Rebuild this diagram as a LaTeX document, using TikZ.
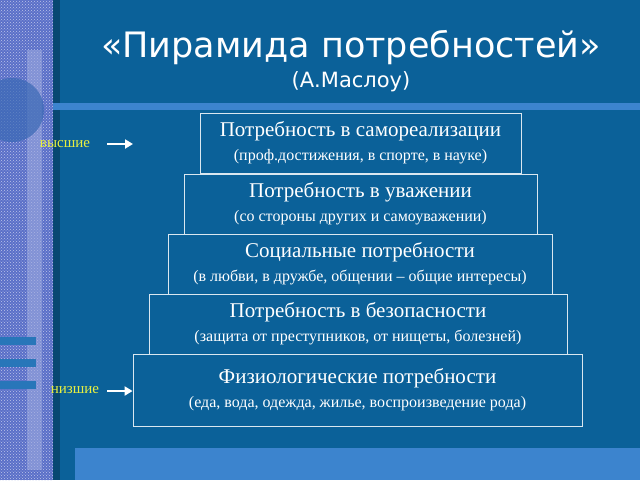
\documentclass[tikz,border=0pt]{standalone}
\usepackage{fontspec}
\setmainfont{Liberation Serif}
\newfontfamily\titlefont{DejaVu Sans}
\usetikzlibrary{positioning,arrows.meta,patterns}
\definecolor{slideblue}{HTML}{0B6199}
\definecolor{bandblue}{HTML}{3C84CE}
\definecolor{stripblue}{HTML}{5A6FC8}
\definecolor{lowyellow}{HTML}{E8F040}
\tikzset{
  level/.style={draw=white!85!slideblue, line width=0.8pt, fill=slideblue, text=white,
    align=center, inner sep=2pt, font=\fontsize{21}{24}\selectfont},
  note/.style={text=lowyellow, font=\fontsize{15}{17}\selectfont},
  pointer/.style={white, line width=2.5pt, -{Triangle[length=8pt,width=9pt]}},
  heading/.style={font=\titlefont\fontsize{35}{40}\selectfont}
}
\newcommand{\sub}[1]{\\[0pt]{\fontsize{16}{18}\selectfont #1}}
\begin{document}
\begin{tikzpicture}[x=1pt,y=-1pt]
        \useasboundingbox (0,0) rectangle (640,480);
        \clip (0,0) rectangle (640,480);
        %FON
        \fill[slideblue] (0,0) rectangle (640,480);
        \fill[stripblue] (0,0) rectangle (53,480);
        \fill[pattern=crosshatch dots, pattern color=white!60!stripblue] (0,0) rectangle (53,480);
        \fill[white!40!stripblue, opacity=0.6] (27,50) rectangle (42,470);
        \fill[stripblue!60!slideblue, opacity=0.7] (12,110) circle (32);
        \foreach \y in {337,359,381} \fill[bandblue!60!slideblue] (0,\y) rectangle (36,\y+8);
        \fill[black, opacity=0.25] (53,0) rectangle (60,480);
        \fill[bandblue] (53,103) rectangle (640,110);
        \fill[bandblue] (75,448) rectangle (640,480);
        %ZAGOLOVOK
        \node[heading, white] (title) at (351,48) {«Пирамида потребностей»};
        \node[white, font=\titlefont\fontsize{21}{24}\selectfont] (author) at (351,82) {(А.Маслоу)};
        %PIRAMIDA
        \node[level, minimum width=321, minimum height=60] (self) at (360.5,143) {Потребность в самореализации\sub{(проф.достижения, в спорте, в науке)}};
        \node[level, minimum width=353, minimum height=60] (esteem) at (360.5,204) {Потребность в уважении\sub{(со стороны других и самоуважении)}};
        \node[level, minimum width=384, minimum height=60] (social) at (360,264) {Социальные потребности\sub{(в любви, в дружбе, общении – общие интересы)}};
        \node[level, minimum width=418, minimum height=60] (safety) at (358,324) {Потребность в безопасности\sub{(защита от преступников, от нищеты, болезней)}};
        \node[level, minimum width=449, minimum height=72] (body) at (357.5,390) {Физиологические потребности\sub{(еда, вода, одежда, жилье, воспроизведение рода)}};
        %STRELKI
        \node[note] (high) at (65,144) {высшие};
        \node[note] (low) at (75,390) {низшие};
        \coordinate (hightip) at (133,144);
        \draw[pointer] (107,144) -- (hightip);
        \draw[pointer] (107,391) -- (body.west |- 0,391);
\end{tikzpicture}
\end{document}
